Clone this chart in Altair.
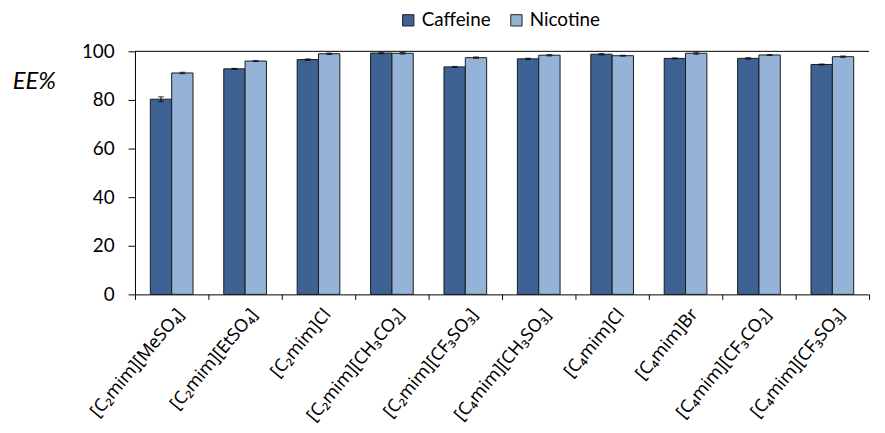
import altair as alt
import pandas as pd

categories = ["[C₂mim][MeSO₄]", "[C₂mim][EtSO₄]", "[C₂mim]Cl", "[C₂mim][CH₃CO₂]",
              "[C₂mim][CF₃SO₃]", "[C₄mim][CH₃SO₃]", "[C₄mim]Cl", "[C₄mim]Br",
              "[C₄mim][CF₃CO₂]", "[C₄mim][CF₃SO₃]"]
caffeine = [80.3, 92.8, 96.6, 99.3, 93.6, 96.9, 98.8, 97.1, 97.1, 94.6]
nicotine = [91.1, 96.0, 99.0, 99.2, 97.4, 98.4, 98.2, 99.2, 98.5, 97.8]
caffeine_err = [1.0, 0.2, 0.3, 0.3, 0.2, 0.3, 0.3, 0.2, 0.3, 0.2]
nicotine_err = [0.3, 0.2, 0.3, 0.3, 0.3, 0.3, 0.2, 0.4, 0.2, 0.3]
series = ["Caffeine", "Nicotine"]
colors = ["#3D6293", "#95B3D7"]

rows = []
for i, c in enumerate(categories):
    rows.append({"cat": c, "series": "Caffeine", "v": caffeine[i],
                 "lo": caffeine[i] - caffeine_err[i], "hi": caffeine[i] + caffeine_err[i]})
    rows.append({"cat": c, "series": "Nicotine", "v": nicotine[i],
                 "lo": nicotine[i] - nicotine_err[i], "hi": nicotine[i] + nicotine_err[i]})
df = pd.DataFrame(rows)

FONT = "Lato"

x = alt.X("cat:N", sort=categories, title=None,
          scale=alt.Scale(paddingInner=0, paddingOuter=0),
          axis=alt.Axis(labelAngle=-50, labelAlign="right", labelBaseline="top",
                        labelFontSize=18, labelColor="#000", labelFont="Noto Sans",
                        tickBand="extent", tickColor="#000", tickSize=5,
                        domainColor="#000", labelPadding=6, labelOffset=2,
                        labelLimit=300))
xo = alt.XOffset("series:N", sort=series,
                 scale=alt.Scale(paddingInner=0, paddingOuter=0.72))
y = alt.Y("v:Q", scale=alt.Scale(domain=[0, 100], nice=False),
          axis=alt.Axis(values=[0, 20, 40, 60, 80, 100], grid=False, title="EE%",
                        titleAngle=0, titleFontStyle="italic", titleFontWeight="normal",
                        titleFontSize=24, titleFont=FONT, titleColor="#000",
                        titleX=-102, titleY=30, titleAlign="center", titleBaseline="middle",
                        labelFontSize=19, labelFont=FONT, labelColor="#000",
                        tickColor="#000", tickSize=7, domainColor="#000", labelPadding=14))

base = alt.Chart(df)

bars = base.mark_bar(stroke="#1a1a1a", strokeWidth=1).encode(
    x=x, xOffset=xo, y=y,
    color=alt.Color("series:N", sort=series,
                    scale=alt.Scale(domain=series, range=colors),
                    legend=alt.Legend(title=None, orient="none", direction="horizontal",
                                      legendX=266, legendY=-41, symbolType="square",
                                      symbolSize=130, symbolStrokeColor="#222",
                                      symbolStrokeWidth=1, labelFontSize=19,
                                      labelFont=FONT, labelColor="#000",
                                      columnPadding=16, symbolOpacity=1)))

err = base.mark_rule(color="#000", strokeWidth=1).encode(
    x=x, xOffset=xo, y="lo:Q", y2="hi:Q")
caps_lo = base.mark_tick(color="#000", size=6, thickness=1).encode(x=x, xOffset=xo, y="lo:Q")
caps_hi = base.mark_tick(color="#000", size=6, thickness=1).encode(x=x, xOffset=xo, y="hi:Q")

top = alt.Chart(pd.DataFrame({"t": [100]})).mark_rule(color="#000", strokeWidth=1).encode(
    y=alt.Y("t:Q"))

chart = alt.layer(bars, err, caps_lo, caps_hi, top).properties(
    width=740, height=245,
    autosize=alt.AutoSizeParams(type="none"),
    padding={"left": 128, "top": 42, "right": 8, "bottom": 130},
).configure_view(stroke=None)

chart.save("out.html", embed_options={"renderer": "svg", "actions": False})
